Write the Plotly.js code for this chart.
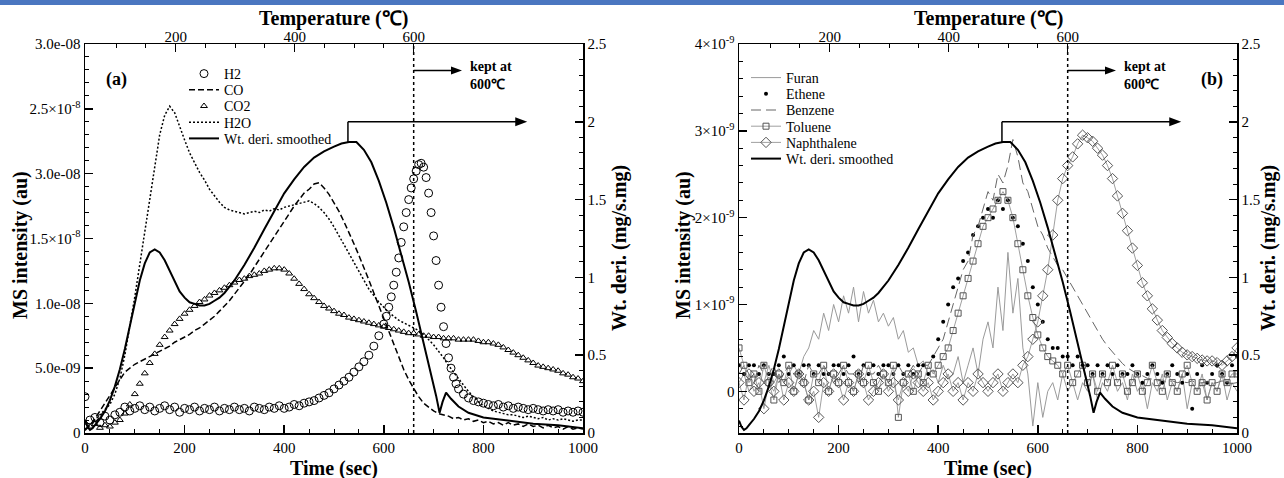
<!DOCTYPE html>
<html>
<head>
<meta charset="utf-8">
<script src="https://cdn.plot.ly/plotly-3.0.1.min.js"></script>
<style>html,body{margin:0;padding:0;background:#fff;}#chart{width:1284px;height:478px;}</style>
</head>
<body>
<div id="chart"></div>
<script>
// ---------------- data ----------------
const t10 = [
  0,10,20,30,40,50,60,70,80,90,
  100,110,120,130,140,150,160,170,180,190,
  200,210,220,230,240,250,260,270,280,290,
  300,310,320,330,340,350,360,370,380,390,
  400,410,420,430,440,450,460,470,480,490,
  500,510,520,530,540,550,560,570,580,590,
  600,610,620,630,640,650,660,670,680,690,
  700,710,720,730,740,750,760,770,780,790,
  800,810,820,830,840,850,860,870,880,890,
  900,910,920,930,940,950,960,970,980,990,
  1000];

// Panel (a) — MS intensity in units of 1e-8
const h2T = [
  0,10,20,30,40,50,60,70,80,90,
  100,110,120,130,140,150,160,170,180,190,
  200,210,220,230,240,250,260,270,280,290,
  300,310,320,330,340,350,360,370,380,390,
  400,410,420,430,440,450,460,470,480,490,
  500,510,520,530,540,550,560,570,580,590,
  600,605,610,615,620,625,630,635,640,645,
  650,655,660,665,670,675,680,685,690,695,
  700,705,710,715,720,725,730,735,740,745,750,
  760,770,780,790,800,810,820,830,840,850,
  860,870,880,890,900,910,920,930,940,950,
  960,970,980,990,1000];
const h2V = [
  0.28,0.10,0.12,0.08,0.13,0.10,0.14,0.16,0.20,0.17,
  0.19,0.21,0.18,0.20,0.17,0.19,0.21,0.18,0.20,0.16,
  0.19,0.18,0.20,0.17,0.19,0.18,0.20,0.17,0.19,0.18,
  0.20,0.18,0.19,0.17,0.20,0.19,0.18,0.20,0.19,0.21,
  0.19,0.20,0.22,0.21,0.23,0.24,0.25,0.27,0.29,0.31,
  0.34,0.37,0.40,0.43,0.47,0.51,0.55,0.60,0.67,0.75,
  0.84,0.90,0.97,1.05,1.14,1.24,1.35,1.47,1.59,1.70,
  1.80,1.89,1.96,2.02,2.07,2.08,2.05,1.97,1.85,1.70,
  1.52,1.33,1.14,0.97,0.82,0.69,0.58,0.50,0.43,0.38,0.34,
  0.30,0.27,0.25,0.24,0.23,0.22,0.21,0.22,0.20,0.21,
  0.19,0.20,0.19,0.18,0.19,0.18,0.17,0.18,0.17,0.18,
  0.16,0.17,0.16,0.17,0.16];
const coV = [
  0.02,0.06,0.11,0.17,0.24,0.30,0.36,0.42,0.47,0.50,
  0.53,0.55,0.57,0.59,0.61,0.63,0.65,0.67,0.70,0.72,
  0.74,0.76,0.79,0.81,0.84,0.87,0.90,0.94,0.98,1.02,
  1.07,1.12,1.17,1.22,1.28,1.34,1.40,1.46,1.52,1.58,
  1.64,1.70,1.75,1.80,1.85,1.88,1.92,1.93,1.89,1.84,
  1.78,1.71,1.63,1.55,1.46,1.37,1.28,1.18,1.08,0.98,
  0.88,0.78,0.68,0.58,0.49,0.41,0.34,0.28,0.23,0.20,
  0.17,0.15,0.14,0.13,0.11,0.12,0.10,0.11,0.09,0.10,
  0.08,0.09,0.07,0.08,0.06,0.08,0.06,0.07,0.05,0.07,
  0.05,0.06,0.04,0.06,0.04,0.05,0.03,0.05,0.03,0.04,
  0.03];
const co2V = [
  0.08,0.05,0.07,0.04,0.06,0.05,0.08,0.10,0.15,0.22,
  0.30,0.38,0.46,0.54,0.61,0.68,0.74,0.79,0.84,0.88,
  0.92,0.95,0.98,1.01,1.03,1.06,1.08,1.10,1.12,1.14,
  1.16,1.18,1.19,1.21,1.22,1.23,1.25,1.26,1.27,1.27,
  1.26,1.23,1.19,1.15,1.11,1.07,1.04,1.01,0.98,0.96,
  0.94,0.92,0.91,0.89,0.88,0.87,0.86,0.85,0.84,0.83,
  0.82,0.81,0.80,0.79,0.78,0.77,0.77,0.76,0.75,0.75,
  0.74,0.74,0.73,0.73,0.73,0.72,0.72,0.72,0.72,0.71,
  0.70,0.70,0.69,0.68,0.66,0.64,0.62,0.60,0.58,0.56,
  0.54,0.52,0.51,0.50,0.49,0.48,0.46,0.45,0.43,0.42,
  0.40];
const h2oV = [
  0.03,0.06,0.10,0.14,0.18,0.22,0.30,0.42,0.60,0.82,
  1.05,1.30,1.55,1.80,2.05,2.30,2.45,2.52,2.47,2.36,
  2.26,2.16,2.08,2.01,1.95,1.88,1.83,1.78,1.74,1.72,
  1.71,1.70,1.69,1.70,1.71,1.70,1.72,1.71,1.73,1.72,
  1.74,1.75,1.76,1.77,1.78,1.79,1.77,1.74,1.70,1.65,
  1.59,1.52,1.45,1.38,1.31,1.24,1.17,1.11,1.06,1.01,
  0.97,0.93,0.90,0.87,0.85,0.83,0.81,0.79,0.76,0.72,
  0.68,0.63,0.58,0.52,0.47,0.42,0.37,0.32,0.28,0.24,
  0.21,0.19,0.17,0.16,0.15,0.14,0.14,0.13,0.12,0.13,
  0.12,0.11,0.12,0.10,0.11,0.10,0.11,0.10,0.09,0.10,
  0.10];

// Weight derivative (mg/s.mg), shared by both panels
const wtT = [0,5,10,15,20,30,40,50,60,70,80,90,100,110,120,130,140,150,160,170,180,190,
  200,210,220,230,240,250,260,270,280,290,300,320,340,360,380,400,420,440,460,480,
  500,515,530,545,560,575,590,605,620,635,650,665,680,695,705,712,718,725,735,750,
  770,800,850,900,950,1000];
const wtV = [0.08,0.04,0.02,0.03,0.05,0.09,0.14,0.21,0.30,0.41,0.54,0.68,0.83,0.98,1.09,1.16,1.18,1.16,1.11,1.04,0.97,0.91,
  0.87,0.84,0.83,0.82,0.82,0.83,0.85,0.87,0.90,0.94,0.98,1.08,1.19,1.31,1.43,1.54,1.63,1.71,1.77,1.81,
  1.84,1.86,1.87,1.87,1.82,1.74,1.62,1.48,1.32,1.15,0.97,0.78,0.58,0.38,0.24,0.13,0.20,0.26,0.22,0.17,
  0.13,0.10,0.08,0.06,0.05,0.03];

// Panel (b) — MS intensity in units of 1e-9
const furanV = [
  0.1,0.2,0.0,0.1,0.2,0.1,0.3,0.1,0.2,0.1,
  0.2,0.3,0.2,0.4,0.5,0.7,0.6,0.9,0.7,1.0,
  0.8,1.1,0.9,1.2,0.8,1.15,0.9,1.05,0.8,0.9,
  0.75,0.85,0.6,0.7,0.45,0.5,0.3,0.35,0.2,0.25,
  0.1,0.3,0.15,0.2,0.4,0.1,0.3,0.5,0.2,0.6,
  0.8,0.5,1.2,0.7,1.6,0.9,1.3,0.5,0.2,-0.4,
  0.1,-0.3,0.0,0.1,-0.1,0.2,0.0,0.1,-0.1,0.1,
  0.0,0.2,-0.1,0.1,0.0,0.2,0.0,0.1,-0.1,0.2,
  0.0,0.1,-0.2,0.1,0.0,0.2,-0.1,0.1,0.0,0.2,
  -0.2,0.1,0.0,0.2,-0.1,0.1,0.0,0.2,-0.1,0.1,
  0.0];
const etheneV = [
  0.3,0.2,0.3,0.3,0.2,0.3,0.2,0.2,0.3,0.4,
  0.2,0.3,0.2,0.3,0.3,0.2,0.3,0.2,0.2,0.3,
  0.3,0.2,0.3,0.4,0.2,0.3,0.2,0.3,0.2,0.3,
  0.3,0.2,0.3,0.2,0.3,0.2,0.3,0.3,0.2,0.4,
  0.6,0.8,1.0,1.2,1.3,1.5,1.6,1.8,1.9,2.0,
  2.1,2.0,2.2,2.1,2.2,2.0,1.9,1.7,1.5,1.2,
  1.0,0.8,0.6,0.5,0.5,0.4,0.4,0.3,0.4,0.3,
  0.3,0.2,0.3,0.2,0.3,0.2,0.3,0.2,0.2,0.3,
  0.2,0.1,0.2,0.3,0.2,0.1,0.2,0.3,0.2,0.1,
  0.2,-0.2,0.2,0.3,0.1,0.2,0.3,0.2,0.1,0.3,
  0.4];
const benzeneV = [
  0.2,0.3,0.2,0.1,0.3,0.2,0.2,0.3,0.1,0.2,
  0.3,0.2,0.2,0.1,0.3,0.2,0.2,0.3,0.2,0.1,
  0.2,0.3,0.2,0.2,0.1,0.3,0.2,0.2,0.3,0.2,
  0.1,0.2,0.3,0.2,0.2,0.3,0.2,0.3,0.3,0.4,
  0.5,0.6,0.8,1.0,1.2,1.4,1.5,1.8,1.9,2.1,
  2.3,2.2,2.5,2.4,2.6,2.9,2.7,2.4,2.3,2.1,
  1.9,1.8,1.65,1.55,1.45,1.4,1.3,1.2,1.1,1.0,
  0.9,0.8,0.7,0.6,0.52,0.45,0.38,0.32,0.27,0.23,
  0.2,0.18,0.15,0.14,0.12,0.13,0.1,0.12,0.1,0.11,
  0.1,0.12,0.09,0.1,0.11,0.09,0.1,0.12,0.1,0.09,
  0.1];
const tolueneV = [
  0.5,0.3,0.1,0.2,0.0,0.3,0.1,-0.1,0.2,0.1,
  0.3,0.0,0.2,0.1,-0.1,0.2,0.1,0.3,0.0,0.2,
  0.1,0.3,0.1,0.0,0.2,0.1,0.3,0.1,0.0,0.2,
  0.1,0.3,-0.3,0.1,0.2,0.0,0.2,0.1,0.3,0.2,
  0.3,0.4,0.5,0.7,0.9,1.1,1.3,1.5,1.7,1.9,
  2.0,2.1,2.2,2.3,2.2,2.0,1.7,1.4,1.1,0.85,
  0.65,0.5,0.4,0.35,0.3,0.2,0.3,0.1,0.2,0.3,
  0.1,0.2,0.0,0.2,0.1,0.3,0.1,0.2,0.0,0.1,
  0.2,0.0,0.1,0.3,0.1,0.0,0.2,0.1,0.0,0.2,
  0.3,0.1,0.0,0.1,-0.1,0.1,0.0,0.2,0.1,0.2,
  0.2];
const naphV = [
  0.1,-0.1,0.2,0.0,0.1,-0.2,0.1,0.0,0.2,-0.1,
  0.1,0.0,0.2,0.1,-0.1,0.0,-0.3,0.1,0.0,0.2,
  0.1,-0.1,0.1,0.0,0.2,0.1,-0.1,0.0,0.1,0.2,
  0.0,0.1,-0.1,0.1,0.0,0.2,0.1,0.0,0.1,-0.1,
  0.0,0.1,0.2,0.0,0.1,-0.1,0.1,0.0,0.2,0.1,
  0.0,0.1,0.2,0.0,0.1,0.2,0.1,0.3,0.4,0.6,
  0.8,1.1,1.4,1.8,2.2,2.45,2.6,2.7,2.85,2.95,
  2.92,2.88,2.8,2.72,2.6,2.45,2.25,2.05,1.85,1.65,
  1.45,1.25,1.1,0.95,0.82,0.7,0.62,0.55,0.5,0.45,
  0.42,0.4,0.38,0.36,0.35,0.35,0.33,0.3,0.35,0.4,
  0.5];

// Tick labels
const msTicksA = [0, 0.5, 1.0, 1.5, 2.0, 2.5, 3.0];
const msTextA = ['0', '5.0e-09', '1.0e-08', '1.5×10<sup>-8</sup>', '3.0e-08', '2.5×10<sup>-8</sup>', '3.0e-08'];
const msTicksB = [0, 1, 2, 3, 4];
const msTextB = ['0', '1×10<sup>-9</sup>', '2×10<sup>-9</sup>', '3×10<sup>-9</sup>', '4×10<sup>-9</sup>'];
const tempMajor = [200, 400, 600];
const tempMinor = [100, 150, 250, 300, 350, 450, 500, 550];
// heating calibration: time (s) at 200 °C and at 600 °C
const heatAt200 = 182, heatAt600 = 660;
const keptTime = 660;
// annotation arrows (time in s, wt. deri. level)
const peakArrow = {from: 528, to: 888, base: 1.87, level: 2.0};
const keptArrow = {to: 757, level: 2.33};

// ---------------- layout helpers ----------------
const W = 1284, H = 478;
const FONT = '"Liberation Serif", "Times New Roman", serif';
const fx = p => p / W, fy = p => 1 - p / H;
const tempToTime = T => heatAt200 + (T - 200) * (heatAt600 - heatAt200) / 400;

const domA = [fx(85), fx(583)], domB = [fx(739), fx(1237)], domY = [fy(433), fy(44)];

function ax(extra, minor) {
  return Object.assign({
    showline: true, linecolor: '#000', linewidth: 1.5, mirror: false,
    ticks: 'inside', ticklen: 8, tickwidth: 1.5, tickcolor: '#000',
    showgrid: false, zeroline: false, automargin: false, fixedrange: true,
    tickfont: {family: FONT, size: 15, color: '#000'},
    minor: Object.assign({ticks: 'inside', ticklen: 4, tickwidth: 1, tickcolor: '#000', showgrid: false}, minor)
  }, extra);
}

const topTicks = {
  tickmode: 'array',
  tickvals: tempMajor.map(tempToTime),
  ticktext: tempMajor.map(String),
  ticklabelstandoff: -5
};
const topMinor = {tickmode: 'array', tickvals: tempMinor.map(tempToTime)};

const layout = {
  width: W, height: H,
  margin: {l: 0, r: 0, t: 0, b: 0},
  paper_bgcolor: '#fff', plot_bgcolor: 'rgba(0,0,0,0)',
  font: {family: FONT, color: '#000'},
  hovermode: false,
  showlegend: true,
  // panel (a)
  xaxis: ax({domain: domA, anchor: 'y', range: [0, 1000], dtick: 200, tick0: 0}, {dtick: 50}),
  yaxis: ax({domain: domY, anchor: 'x', range: [0, 3.0], tickmode: 'array', tickvals: msTicksA, ticktext: msTextA}, {dtick: 0.1}),
  xaxis3: ax(Object.assign({overlaying: 'x', side: 'top', anchor: 'y', range: [0, 1000]}, topTicks), topMinor),
  yaxis2: ax({overlaying: 'y', side: 'right', anchor: 'x', range: [0, 2.5], dtick: 0.5, tick0: 0}, {dtick: 0.1}),
  // panel (b)
  xaxis2: ax({domain: domB, anchor: 'y3', range: [0, 1000], dtick: 200, tick0: 0}, {dtick: 50}),
  yaxis3: ax({domain: domY, anchor: 'x2', range: [-0.48, 4.0], tickmode: 'array', tickvals: msTicksB, ticktext: msTextB}, {dtick: 0.2}),
  xaxis4: ax(Object.assign({overlaying: 'x2', side: 'top', anchor: 'y3', range: [0, 1000]}, topTicks), topMinor),
  yaxis4: ax({overlaying: 'y3', side: 'right', anchor: 'x2', range: [0, 2.5], dtick: 0.5, tick0: 0}, {dtick: 0.1}),
  legend: {x: fx(184), y: fy(58), xanchor: 'left', yanchor: 'top', bgcolor: 'rgba(0,0,0,0)',
    font: {family: FONT, size: 14, color: '#000'}, tracegroupgap: 0, itemwidth: 30},
  legend2: {x: fx(746), y: fy(62), xanchor: 'left', yanchor: 'top', bgcolor: 'rgba(0,0,0,0)',
    font: {family: FONT, size: 14, color: '#000'}, tracegroupgap: 0, itemwidth: 30},
  shapes: [
    {type: 'rect', xref: 'paper', yref: 'paper', x0: 0, x1: 1, y0: fy(5), y1: 1, fillcolor: '#4a76c0', line: {width: 0}}
  ],
  annotations: []
};

const ann = layout.annotations, shp = layout.shapes;
function txt(text, x, y, size, extra) {
  ann.push(Object.assign({text: text, x: x, y: y, xref: 'paper', yref: 'paper', showarrow: false,
    xanchor: 'center', yanchor: 'middle',
    font: {family: FONT, size: size, color: '#000'}}, extra || {}));
}
function arrowHead(xr, yr, x, y, len, half) {
  shp.push({type: 'path', xref: xr, yref: yr, xsizemode: 'pixel', ysizemode: 'pixel', xanchor: x, yanchor: y,
    path: 'M0,0 L' + (-len) + ',' + half + ' L' + (-len) + ',' + (-half) + ' Z', fillcolor: '#000', line: {width: 0}});
}
const panels = [
  {cx: 334, xr: 'x', yr: 'y2', ydom: 'y domain', msX: 20, wtX: 619, tag: '(a)', tagX: 116},
  {cx: 988, xr: 'x2', yr: 'y4', ydom: 'y3 domain', msX: 683, wtX: 1268, tag: '(b)', tagX: 1212}
];
panels.forEach(p => {
  txt('<b>Temperature (℃)</b>', fx(p.cx), fy(18), 20);
  txt('<b>Time (sec)</b>', fx(p.cx), fy(468), 20);
  txt('<b>MS intensity (au)</b>', fx(p.msX), fy(245), 20, {textangle: -90});
  txt('<b>Wt. deri. (mg/s.mg)</b>', fx(p.wtX), fy(248), 20, {textangle: -90});
  txt('<b>' + p.tag + '</b>', fx(p.tagX), fy(79), 18);
  // dotted line: heating stops at 600 °C
  shp.push({type: 'line', xref: p.xr, yref: p.ydom, x0: keptTime, x1: keptTime, y0: 0, y1: 1,
    line: {color: '#000', width: 1.5, dash: '3px,3px'}});
  // arrow from the weight-derivative peak
  shp.push({type: 'line', xref: p.xr, yref: p.yr, x0: peakArrow.from, x1: peakArrow.from, y0: peakArrow.base, y1: peakArrow.level,
    line: {color: '#000', width: 1.5}});
  shp.push({type: 'line', xref: p.xr, yref: p.yr, x0: peakArrow.from, x1: peakArrow.to - 8, y0: peakArrow.level, y1: peakArrow.level,
    line: {color: '#000', width: 1.5}});
  arrowHead(p.xr, p.yr, peakArrow.to, peakArrow.level, 12, 4.5);
  // kept at 600 °C arrow
  shp.push({type: 'line', xref: p.xr, yref: p.yr, x0: keptTime, x1: keptArrow.to - 8, y0: keptArrow.level, y1: keptArrow.level,
    line: {color: '#000', width: 1.5}});
  arrowHead(p.xr, p.yr, keptArrow.to, keptArrow.level, 11, 4);
  ann.push({xref: p.xr, yref: 'paper', x: 770, y: fy(76), xanchor: 'left', yanchor: 'middle', align: 'left', showarrow: false,
    text: '<b>kept at</b><br><b>600℃</b>', font: {family: FONT, size: 14, color: '#000'}});
});

const blk = '#000';
const traces = [
  {name: 'H2', x: h2T, y: h2V, xaxis: 'x', yaxis: 'y', mode: 'markers', legend: 'legend',
    marker: {symbol: 'circle-open', size: 8, color: blk, line: {width: 1}}},
  {name: 'CO', x: t10, y: coV, xaxis: 'x', yaxis: 'y', mode: 'lines', legend: 'legend',
    line: {color: blk, width: 1.5, dash: '6px,3px'}},
  {name: 'CO2', x: t10, y: co2V, xaxis: 'x', yaxis: 'y', mode: 'markers', legend: 'legend',
    marker: {symbol: 'triangle-up-open', size: 6, color: blk, line: {width: 1}}},
  {name: 'H2O', x: t10, y: h2oV, xaxis: 'x', yaxis: 'y', mode: 'lines', legend: 'legend',
    line: {color: blk, width: 1.5, dash: '2px,2px'}},
  {name: 'Wt. deri. smoothed', x: wtT, y: wtV, xaxis: 'x3', yaxis: 'y2', mode: 'lines', legend: 'legend',
    line: {color: blk, width: 2}},

  {name: 'Furan', x: t10, y: furanV, xaxis: 'x2', yaxis: 'y3', mode: 'lines', legend: 'legend2',
    line: {color: '#9a9a9a', width: 1}},
  {name: 'Ethene', x: t10, y: etheneV, xaxis: 'x2', yaxis: 'y3', mode: 'markers', legend: 'legend2',
    marker: {symbol: 'circle', size: 4, color: blk}},
  {name: 'Benzene', x: t10, y: benzeneV, xaxis: 'x2', yaxis: 'y3', mode: 'lines', legend: 'legend2',
    line: {color: '#666', width: 1, dash: '10px,5px'}},
  {name: 'Toluene', x: t10, y: tolueneV, xaxis: 'x2', yaxis: 'y3', mode: 'lines+markers', legend: 'legend2',
    line: {color: '#888', width: 0.8}, marker: {symbol: 'square-open', size: 6, color: '#555', line: {width: 1}}},
  {name: 'Naphthalene', x: t10, y: naphV, xaxis: 'x2', yaxis: 'y3', mode: 'lines+markers', legend: 'legend2',
    line: {color: '#888', width: 0.8}, marker: {symbol: 'diamond-open', size: 8, color: '#555', line: {width: 1}}},
  {name: 'Wt. deri. smoothed', x: wtT, y: wtV, xaxis: 'x4', yaxis: 'y4', mode: 'lines', legend: 'legend2',
    line: {color: blk, width: 2}}
];

// legend rows in the figure are packed tighter than Plotly's minimum row height
const legendRowStep = 16.2;

Plotly.newPlot('chart', traces, layout, {displayModeBar: false, staticPlot: true}).then(gd => {
  ['legend', 'legend2'].forEach(id => {
    const lg = gd.querySelector('g.' + id);
    if (!lg) return;
    const items = Array.from(lg.querySelectorAll('g.traces'));
    if (!items.length) return;
    const parse = el => {
      const m = /translate\(\s*([-\d.e]+)[ ,]+([-\d.e]+)\s*\)/.exec(el.getAttribute('transform') || '');
      return m ? [parseFloat(m[1]), parseFloat(m[2])] : null;
    };
    const first = parse(items[0]);
    if (!first) return;
    items.forEach((it, i) => {
      const p = parse(it);
      if (p) it.setAttribute('transform', 'translate(' + p[0] + ',' + (first[1] + i * legendRowStep) + ')');
    });
  });
});
</script>
</body>
</html>
